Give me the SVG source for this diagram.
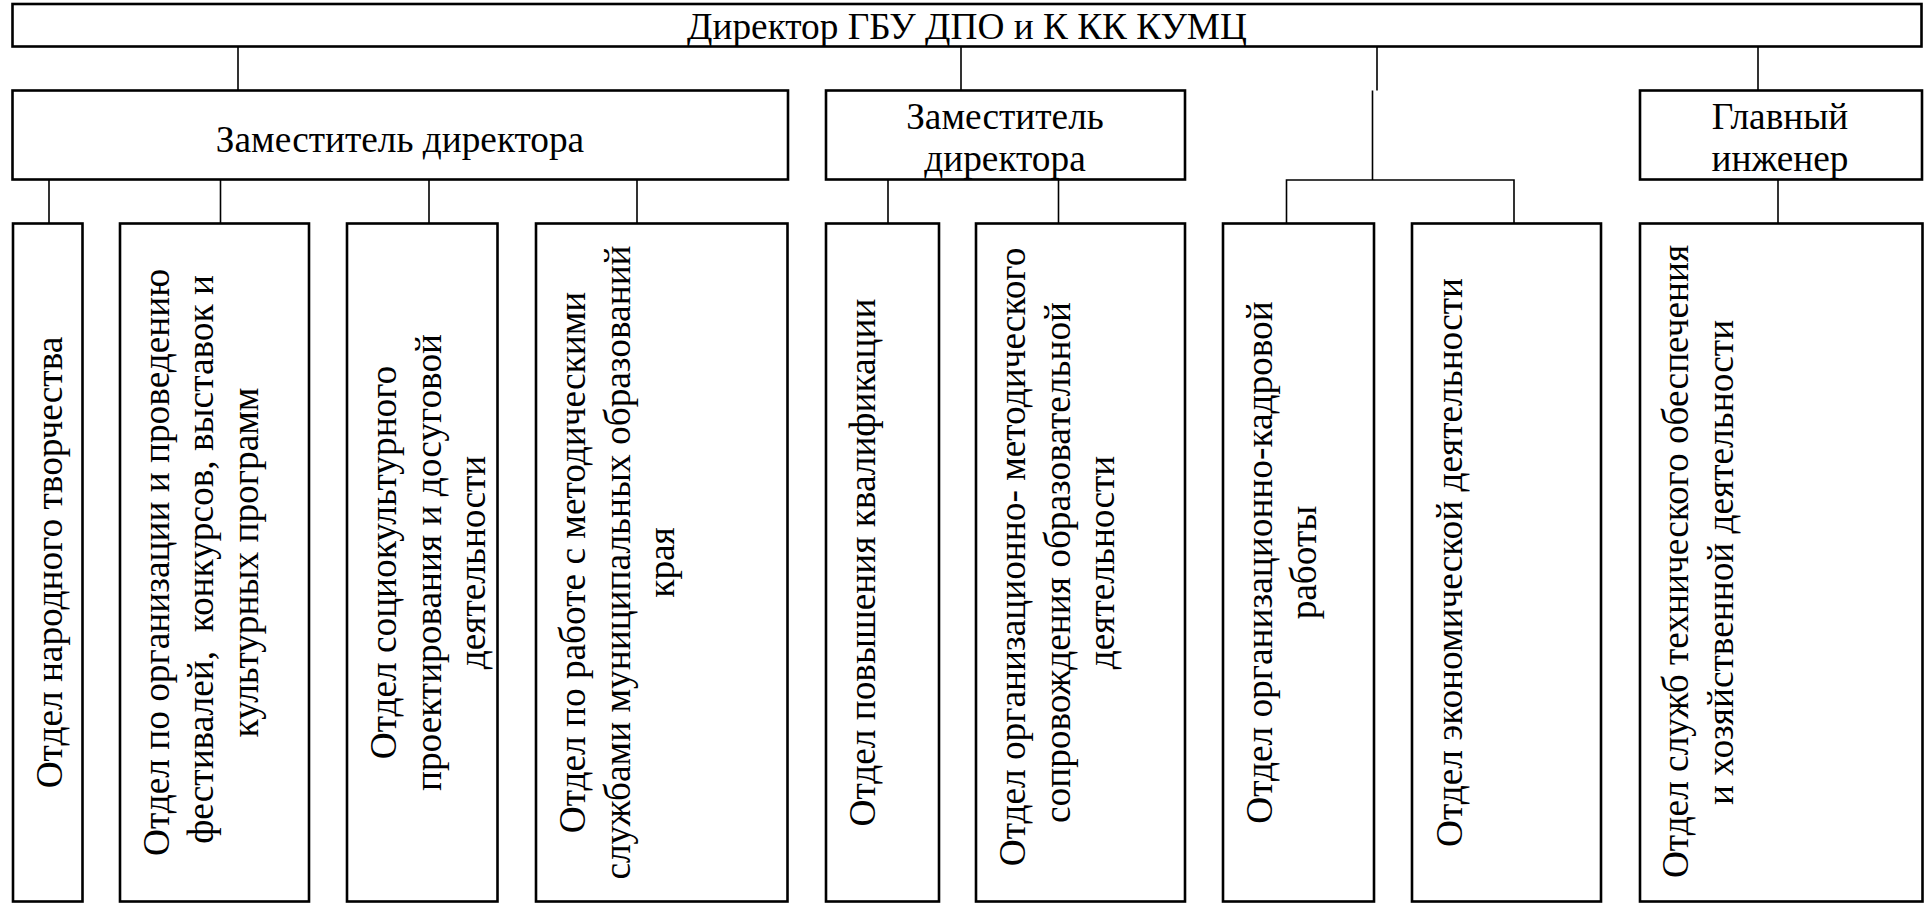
<svg xmlns="http://www.w3.org/2000/svg" width="1925" height="904" viewBox="0 0 1925 904">
<style>
.box{fill:#fff;stroke:#000;stroke-width:2.6}
.con{fill:none;stroke:#000;stroke-width:1.6}
.t{font-family:'Liberation Serif','DejaVu Serif',serif;font-size:37.3px;fill:#000;text-anchor:middle}
</style>
<rect width="1925" height="904" fill="#fff"/>
<g id="connectors">
<path class="con" d="M238,46.5V90.5M961,46.5V90.5M1377,46.5V90.5M1758,46.5V90.5"/>
<path class="con" d="M49,179.5V223.5M220.5,179.5V223.5M429,179.5V223.5M637,179.5V223.5"/>
<path class="con" d="M888,179.5V223.5M1058.5,179.5V223.5"/>
<path class="con" d="M1372.5,90.5V180M1286.5,223.5V180H1514V223.5"/>
<path class="con" d="M1778,179.5V223.5"/>
</g>
<g id="director">
<rect class="box" x="12.5" y="4" width="1909" height="42.5"/>
<text class="t" x="967" y="39" font-family="Liberation Serif">Директор ГБУ ДПО и К КК КУМЦ</text>
</g>
<g id="deputy1">
<rect class="box" x="12.5" y="90.5" width="775.5" height="89"/>
<text class="t" x="400" y="152">Заместитель директора</text>
</g>
<g id="deputy2">
<rect class="box" x="826" y="90.5" width="359" height="89"/>
<text class="t" x="1005" y="129">Заместитель</text>
<text class="t" x="1005" y="171">директора</text>
</g>
<g id="engineer">
<rect class="box" x="1640" y="90.5" width="282" height="89"/>
<text class="t" x="1780" y="129">Главный</text>
<text class="t" x="1780" y="171">инженер</text>
</g>
<g id="dept1">
<rect class="box" x="13" y="223.5" width="69.5" height="678"/>
<text class="t" transform="translate(61.5,562.5) rotate(-90)">Отдел народного творчества</text>
</g>
<g id="dept2">
<rect class="box" x="120" y="223.5" width="189" height="678"/>
<text class="t" transform="translate(168.5,562.5) rotate(-90)"><tspan x="0" y="0">Отдел по организации и проведению</tspan><tspan x="3" y="44.5" style="white-space:pre">фестивалей,  конкурсов, выставок и</tspan><tspan x="0" y="89">культурных программ</tspan></text>
</g>
<g id="dept3">
<rect class="box" x="347" y="223.5" width="150.5" height="678"/>
<text class="t" transform="translate(396,562.5) rotate(-90)"><tspan x="0" y="0">Отдел социокультурного</tspan><tspan x="0" y="44.5">проектирования и досуговой</tspan><tspan x="0" y="89">деятельности</tspan></text>
</g>
<g id="dept4">
<rect class="box" x="536" y="223.5" width="251.5" height="678"/>
<text class="t" transform="translate(585,562.5) rotate(-90)"><tspan x="0" y="0">Отдел по работе с методическими</tspan><tspan x="0" y="44.5">службами муниципальных образований</tspan><tspan x="0" y="89">края</tspan></text>
</g>
<g id="dept5">
<rect class="box" x="826" y="223.5" width="113" height="678"/>
<text class="t" transform="translate(875,562.5) rotate(-90)">Отдел повышения квалификации</text>
</g>
<g id="dept6">
<rect class="box" x="976" y="223.5" width="209" height="678"/>
<text class="t" transform="translate(1025,562.5) rotate(-90)"><tspan x="5.5" y="0">Отдел организационно- методического</tspan><tspan x="0" y="44.5">сопровождения образовательной</tspan><tspan x="0" y="89">деятельности</tspan></text>
</g>
<g id="dept7">
<rect class="box" x="1223" y="223.5" width="151" height="678"/>
<text class="t" transform="translate(1271.5,562.5) rotate(-90)"><tspan x="0" y="0">Отдел организационно-кадровой</tspan><tspan x="0" y="44.5">работы</tspan></text>
</g>
<g id="dept8">
<rect class="box" x="1412" y="223.5" width="189" height="678"/>
<text class="t" transform="translate(1461.5,562.5) rotate(-90)">Отдел экономической деятельности</text>
</g>
<g id="dept9">
<rect class="box" x="1640" y="223.5" width="282.5" height="678"/>
<text class="t" transform="translate(1688,562.5) rotate(-90)"><tspan x="1" y="0">Отдел служб технического обеспечения</tspan><tspan x="0" y="44.5">и хозяйственной деятельности</tspan></text>
</g>
</svg>
